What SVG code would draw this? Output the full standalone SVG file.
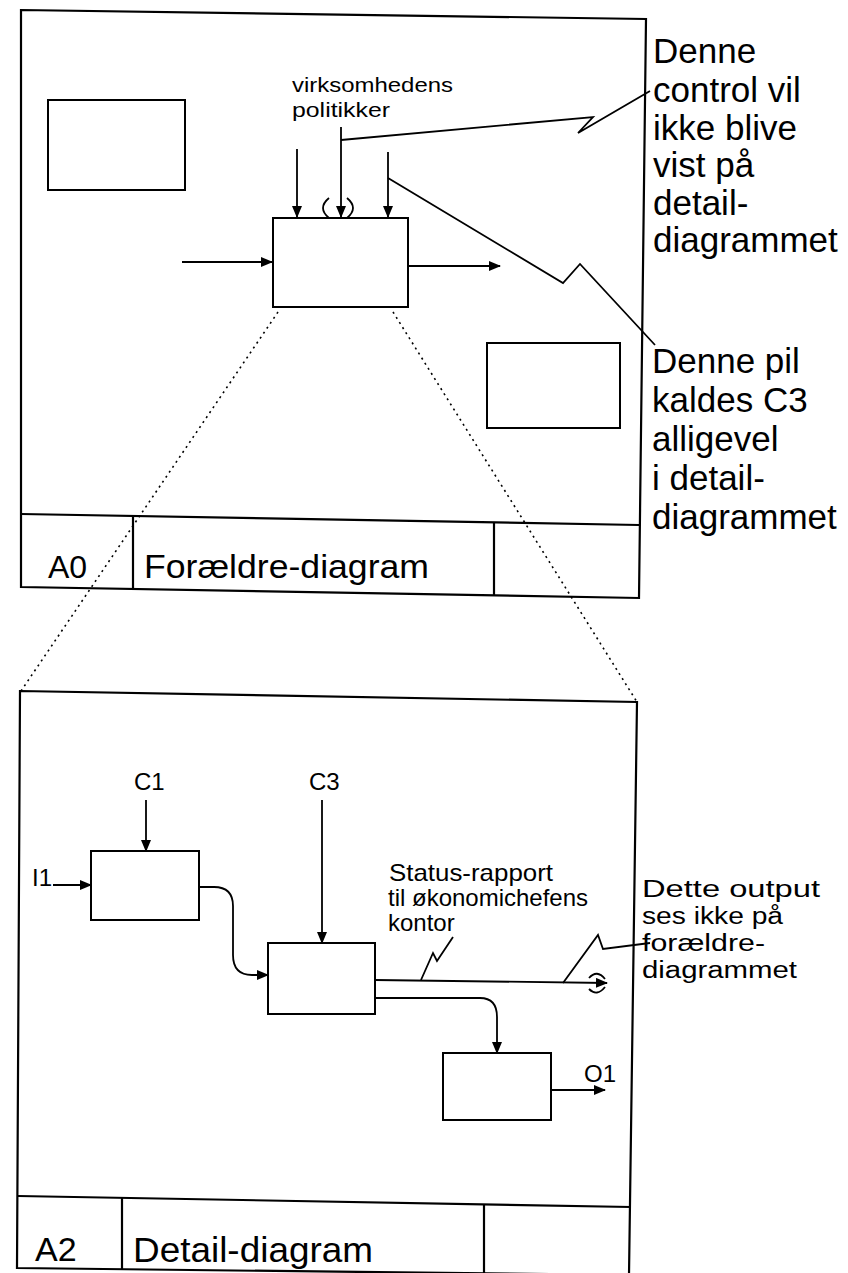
<svg xmlns="http://www.w3.org/2000/svg" width="848" height="1273" viewBox="0 0 848 1273">
<style>
.ln{fill:none;stroke:#000;stroke-width:1.8;stroke-linejoin:miter}
.fr{fill:none;stroke:#000;stroke-width:2.2}
.bx{fill:#fff;stroke:#000;stroke-width:2}
.dot{fill:none;stroke:#000;stroke-width:1.6;stroke-dasharray:2 4}
.t{font-family:"Liberation Sans",Arial,sans-serif;fill:#000}
.big{font-size:35px}
.mid{font-size:23px}
.sm{font-size:24px}
.xs{font-size:21px}
</style>
<defs>
<marker id="ah" markerWidth="12" markerHeight="10" refX="11" refY="5" orient="auto" markerUnits="userSpaceOnUse">
<path d="M0,0 L12,5 L0,10 Z" fill="#000"/>
</marker>
</defs>
<rect width="848" height="1273" fill="#fff"/>

<g id="frame-A0">
<path class="fr" d="M21,10 L646,19 L639,598 L21,587 Z"/>
<path class="fr" d="M21,514 L639,525"/>
<path class="fr" d="M133,515 L133,589"/>
<path class="fr" d="M494,522 L494,596"/>
<text class="t" x="48" y="578" font-size="32">A0</text>
<text class="t" x="144" y="578" font-size="34" textLength="285" lengthAdjust="spacingAndGlyphs">Forældre-diagram</text>
</g>

<g id="box-topleft"><rect class="bx" x="48" y="100" width="137" height="90"/></g>
<g id="box-main"><rect class="bx" x="273" y="218" width="135" height="89"/></g>
<g id="box-right"><rect class="bx" x="487" y="343" width="133" height="85"/></g>

<g id="label-politikker">
<text class="t xs" x="292" y="92" textLength="161" lengthAdjust="spacingAndGlyphs">virksomhedens</text>
<text class="t xs" x="292" y="117" textLength="98" lengthAdjust="spacingAndGlyphs">politikker</text>
</g>

<g id="note-control">
<text class="t big" x="653" y="63">Denne</text>
<text class="t big" x="653" y="102">control vil</text>
<text class="t big" x="653" y="140">ikke blive</text>
<text class="t big" x="653" y="177">vist på</text>
<text class="t big" x="653" y="215">detail-</text>
<text class="t big" x="653" y="252">diagrammet</text>
</g>

<g id="note-pil">
<text class="t big" x="652" y="373">Denne pil</text>
<text class="t big" x="652" y="412">kaldes C3</text>
<text class="t big" x="652" y="451">alligevel</text>
<text class="t big" x="652" y="490">i detail-</text>
<text class="t big" x="652" y="529">diagrammet</text>
</g>

<g id="frame-A2">
<path class="fr" d="M20,691 L637,702 L629,1275 L17,1268 Z"/>
<path class="fr" d="M18,1196 L631,1207"/>
<path class="fr" d="M122,1197 L122,1269"/>
<path class="fr" d="M484,1205 L484,1275"/>
<text class="t" x="35" y="1261" font-size="34">A2</text>
<text class="t" x="133" y="1262" font-size="35" textLength="240" lengthAdjust="spacingAndGlyphs">Detail-diagram</text>
</g>

<g id="box-1"><rect class="bx" x="91" y="851" width="108" height="69"/></g>
<g id="box-2"><rect class="bx" x="268" y="943" width="107" height="71"/></g>
<g id="box-3"><rect class="bx" x="443" y="1053" width="108" height="67"/></g>

<g id="labels-detail">
<text class="t sm" x="134" y="790">C1</text>
<text class="t sm" x="309" y="790">C3</text>
<text class="t sm" x="32" y="886">I1</text>
<text class="t sm" x="584" y="1082">O1</text>
<text class="t sm" x="389" y="881" textLength="164" lengthAdjust="spacingAndGlyphs">Status-rapport</text>
<text class="t sm" x="388" y="906" textLength="200" lengthAdjust="spacingAndGlyphs">til økonomichefens</text>
<text class="t sm" x="388" y="931">kontor</text>
</g>

<g id="note-output">
<text class="t mid" x="642" y="897" textLength="178" lengthAdjust="spacingAndGlyphs">Dette output</text>
<text class="t mid" x="642" y="924" textLength="141" lengthAdjust="spacingAndGlyphs">ses ikke på</text>
<text class="t mid" x="642" y="951" textLength="123" lengthAdjust="spacingAndGlyphs">forældre-</text>
<text class="t mid" x="642" y="978" textLength="155" lengthAdjust="spacingAndGlyphs">diagrammet</text>
</g>

<g id="connectors">
<path class="ln" d="M182,262 L272,262" marker-end="url(#ah)"/>
<path class="ln" d="M408,266 L500,266" marker-end="url(#ah)"/>
<path class="ln" d="M297,149 L297,217" marker-end="url(#ah)"/>
<path class="ln" d="M341,127 L341,217" marker-end="url(#ah)"/>
<path class="ln" d="M388,152 L388,217" marker-end="url(#ah)"/>
<path class="ln" d="M329,198 Q317,208 329,218"/>
<path class="ln" d="M347,198 Q359,208 347,218"/>
<path class="ln" d="M341,140 L593,117 L578,133 L650,91"/>
<path class="ln" d="M388,178 L563,283 L580,264 L655,345"/>
<path class="dot" d="M278,312 L21,691"/>
<path class="dot" d="M393,312 L637,702"/>
<path class="ln" d="M146,800 L146,851" marker-end="url(#ah)"/>
<path class="ln" d="M53,885 L91,885" marker-end="url(#ah)"/>
<path class="ln" d="M322,800 L322,943" marker-end="url(#ah)"/>
<path class="ln" d="M199,887 L214,887 Q233,887 233,906 L233,955 Q233,975 252,975 L268,975" marker-end="url(#ah)"/>
<path class="ln" d="M375,980 L607,983" marker-end="url(#ah)"/>
<path class="ln" d="M589,978 Q597,969 605,979"/>
<path class="ln" d="M589,989 Q597,997 605,987"/>
<path class="ln" d="M375,998 L480,998 Q497,998 497,1017 L497,1053" marker-end="url(#ah)"/>
<path class="ln" d="M551,1090 L605,1090" marker-end="url(#ah)"/>
<path class="ln" d="M453,937 L437,961 L433,953 L421,980"/>
<path class="ln" d="M563,983 L598,935 L603,949 L650,943"/>
</g>
</svg>
